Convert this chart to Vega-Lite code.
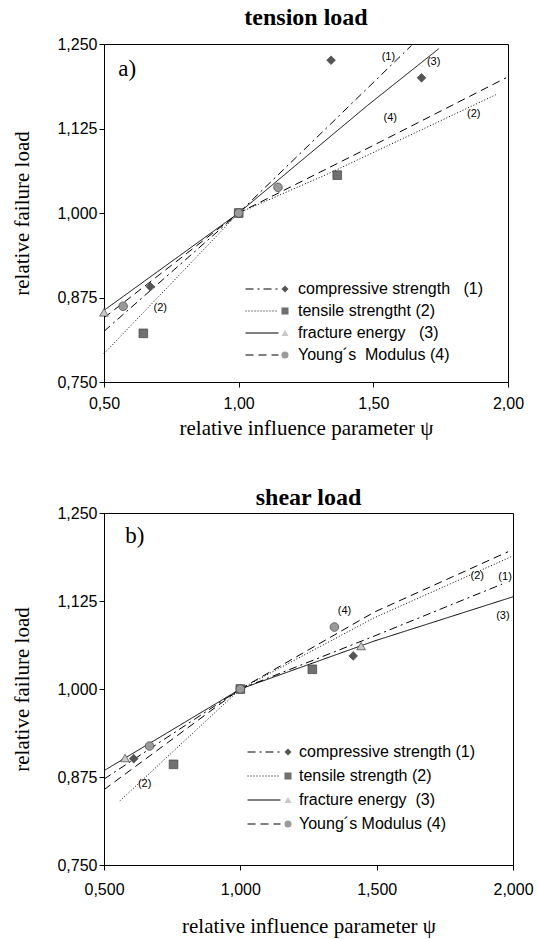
{
  "$schema": "https://vega.github.io/schema/vega-lite/v6.json",
  "padding": {"left": 11, "top": 5, "right": 5, "bottom": 5},
  "spacing": 46,
  "config": {
    "font": "Liberation Sans",
    "axis": {"labelFont": "Liberation Sans", "labelFontSize": 16, "labelColor": "black", "titleFont": "Liberation Serif", "titleFontSize": 21, "titleFontWeight": "normal", "titleColor": "black", "domainColor": "black", "tickColor": "black", "grid": false, "tickSize": 5, "labelFlush": false},
    "view": {"stroke": "black", "strokeWidth": 1},
    "legend": {"labelFont": "Liberation Sans", "labelFontSize": 16, "labelColor": "black", "padding": 0, "title": null, "labelLimit": 400}
  },
  "datasets": {
    "tension_points": [
      {"series": "compressive strength\u00a0\u00a0\u00a0(1)", "x": 0.672, "y": 0.891},
      {"series": "compressive strength\u00a0\u00a0\u00a0(1)", "x": 1.0, "y": 1.0},
      {"series": "compressive strength\u00a0\u00a0\u00a0(1)", "x": 1.343, "y": 1.226},
      {"series": "compressive strength\u00a0\u00a0\u00a0(1)", "x": 1.679, "y": 1.2},
      {"series": "tensile strengtht (2)", "x": 0.646, "y": 0.822},
      {"series": "tensile strengtht (2)", "x": 1.0, "y": 1.0},
      {"series": "tensile strengtht (2)", "x": 1.366, "y": 1.056},
      {"series": "fracture energy\u00a0\u00a0\u00a0(3)", "x": 0.5, "y": 0.853},
      {"series": "fracture energy\u00a0\u00a0\u00a0(3)", "x": 1.0, "y": 1.0},
      {"series": "Young´s\u00a0\u00a0Modulus (4)", "x": 0.571, "y": 0.862},
      {"series": "Young´s\u00a0\u00a0Modulus (4)", "x": 1.0, "y": 1.0},
      {"series": "Young´s\u00a0\u00a0Modulus (4)", "x": 1.146, "y": 1.038}
    ],
    "tension_lines": [
      {"curve": "c1", "x": 0.5, "y": 0.825},
      {"curve": "c1", "x": 1.0, "y": 1.0},
      {"curve": "c1", "x": 1.332, "y": 1.128},
      {"curve": "c1", "x": 1.642, "y": 1.248},
      {"curve": "c2", "x": 0.5, "y": 0.792},
      {"curve": "c2", "x": 1.0, "y": 1.0},
      {"curve": "c2", "x": 1.332, "y": 1.058},
      {"curve": "c2", "x": 1.955, "y": 1.175},
      {"curve": "c3", "x": 0.5, "y": 0.856},
      {"curve": "c3", "x": 1.0, "y": 1.0},
      {"curve": "c3", "x": 1.481, "y": 1.16},
      {"curve": "c3", "x": 1.743, "y": 1.243},
      {"curve": "c4", "x": 0.5, "y": 0.845},
      {"curve": "c4", "x": 1.0, "y": 1.0},
      {"curve": "c4", "x": 1.5, "y": 1.1},
      {"curve": "c4", "x": 1.993, "y": 1.2}
    ],
    "tension_labels": [
      {"label": "(1)", "x": 1.556, "y": 1.231},
      {"label": "(3)", "x": 1.724, "y": 1.224},
      {"label": "(4)", "x": 1.563, "y": 1.14},
      {"label": "(2)", "x": 1.873, "y": 1.147},
      {"label": "(2)", "x": 0.709, "y": 0.86}
    ],
    "shear_points": [
      {"series": "compressive strength (1)", "x": 0.609, "y": 0.901},
      {"series": "compressive strength (1)", "x": 1.0, "y": 1.0},
      {"series": "compressive strength (1)", "x": 1.414, "y": 1.047},
      {"series": "tensile strength (2)", "x": 0.755, "y": 0.893},
      {"series": "tensile strength (2)", "x": 1.0, "y": 1.0},
      {"series": "tensile strength (2)", "x": 1.264, "y": 1.028},
      {"series": "fracture energy\u00a0\u00a0(3)", "x": 0.577, "y": 0.902},
      {"series": "fracture energy\u00a0\u00a0(3)", "x": 1.0, "y": 1.0},
      {"series": "fracture energy\u00a0\u00a0(3)", "x": 1.443, "y": 1.061},
      {"series": "Young´s Modulus (4)", "x": 0.667, "y": 0.919},
      {"series": "Young´s Modulus (4)", "x": 1.0, "y": 1.0},
      {"series": "Young´s Modulus (4)", "x": 1.345, "y": 1.088}
    ],
    "shear_lines": [
      {"curve": "c1", "x": 0.5, "y": 0.872},
      {"curve": "c1", "x": 1.0, "y": 1.0},
      {"curve": "c1", "x": 1.49, "y": 1.075},
      {"curve": "c1", "x": 1.96, "y": 1.149},
      {"curve": "c2", "x": 0.558, "y": 0.841},
      {"curve": "c2", "x": 1.0, "y": 1.0},
      {"curve": "c2", "x": 1.49, "y": 1.101},
      {"curve": "c2", "x": 2.0, "y": 1.189},
      {"curve": "c3", "x": 0.5, "y": 0.884},
      {"curve": "c3", "x": 1.0, "y": 1.0},
      {"curve": "c3", "x": 1.49, "y": 1.068},
      {"curve": "c3", "x": 2.0, "y": 1.131},
      {"curve": "c4", "x": 0.5, "y": 0.857},
      {"curve": "c4", "x": 1.0, "y": 1.0},
      {"curve": "c4", "x": 1.49, "y": 1.109},
      {"curve": "c4", "x": 1.982, "y": 1.195}
    ],
    "shear_labels": [
      {"label": "(4)", "x": 1.382, "y": 1.111},
      {"label": "(2)", "x": 1.869, "y": 1.161},
      {"label": "(1)", "x": 1.971, "y": 1.159},
      {"label": "(3)", "x": 1.963, "y": 1.104},
      {"label": "(2)", "x": 0.649, "y": 0.865}
    ]
  },
  "vconcat": [
    {
      "title": {"text": "tension load", "font": "Liberation Serif", "fontSize": 24, "fontWeight": "bold", "frame": "group", "offset": 6, "color": "black"},
      "width": 404,
      "height": 338,
      "layer": [
        {
          "mark": {"type": "rule", "color": "black", "strokeWidth": 1.2},
          "encoding": {
            "x": {"datum": 1, "type": "quantitative", "scale": {"domain": [0.5, 2], "nice": false, "zero": false},
              "axis": {"values": [0.5, 1, 1.5, 2], "labelExpr": "replace(format(datum.value, '.2f'), '.', ',')", "labelPadding": 8, "titlePadding": 6, "title": "relative influence parameter ψ"}}
          }
        },
        {
          "mark": {"type": "rule", "color": "black", "strokeWidth": 1.2},
          "encoding": {
            "y": {"datum": 1, "type": "quantitative", "scale": {"domain": [0.75, 1.25], "nice": false, "zero": false},
              "axis": {"values": [0.75, 0.875, 1, 1.125, 1.25], "labelExpr": "replace(format(datum.value, '.3f'), '.', ',')", "labelPadding": 2, "titlePadding": 24, "title": "relative failure load"}}
          }
        },
        {
          "data": {"name": "tension_lines"},
          "mark": {"type": "line", "color": "black", "strokeWidth": 1},
          "encoding": {
            "x": {"field": "x", "type": "quantitative"},
            "y": {"field": "y", "type": "quantitative"},
            "strokeDash": {"field": "curve", "type": "nominal",
              "scale": {"domain": ["c1", "c2", "c3", "c4"], "range": [[8, 4, 2, 4], [1, 2], [1, 0], [8, 5]]},
              "legend": {"orient": "none", "legendX": 150, "legendY": 237, "symbolType": "M-3,0H3", "symbolSize": 121, "symbolStrokeColor": "black", "symbolFillColor": "transparent", "symbolStrokeWidth": 1.2, "labelOpacity": 0, "rowPadding": 6}}
          }
        },
        {
          "data": {"name": "tension_points"},
          "mark": {"type": "point", "filled": true, "size": 75, "opacity": 1, "stroke": "#444", "strokeWidth": 0.7},
          "encoding": {
            "x": {"field": "x", "type": "quantitative"},
            "y": {"field": "y", "type": "quantitative"},
            "shape": {"field": "series", "type": "nominal",
              "scale": {"domain": ["compressive strength\u00a0\u00a0\u00a0(1)", "tensile strengtht (2)", "fracture energy\u00a0\u00a0\u00a0(3)", "Young´s\u00a0\u00a0Modulus (4)"], "range": ["diamond", "square", "triangle-up", "circle"]},
              "legend": {"orient": "none", "legendX": 173, "legendY": 237, "symbolSize": 50, "symbolStrokeColor": "#444", "symbolStrokeWidth": 0.7, "labelOffset": 5, "rowPadding": 6}},
            "fill": {"field": "series", "type": "nominal",
              "scale": {"domain": ["compressive strength\u00a0\u00a0\u00a0(1)", "tensile strengtht (2)", "fracture energy\u00a0\u00a0\u00a0(3)", "Young´s\u00a0\u00a0Modulus (4)"], "range": ["#555555", "#707070", "#c8c8c8", "#9a9a9a"]},
              "legend": {"orient": "none", "legendX": 173, "legendY": 237, "symbolSize": 50, "symbolStrokeColor": "#444", "symbolStrokeWidth": 0.7, "labelOffset": 5, "rowPadding": 6}}
          }
        },
        {
          "data": {"name": "tension_labels"},
          "mark": {"type": "text", "font": "Liberation Sans", "fontSize": 11, "color": "black"},
          "encoding": {
            "x": {"field": "x", "type": "quantitative"},
            "y": {"field": "y", "type": "quantitative"},
            "text": {"field": "label"}
          }
        },
        {
          "data": {"values": [{"label": "a)", "x": 0.586, "y": 1.213}]},
          "mark": {"type": "text", "font": "Liberation Serif", "fontSize": 23, "color": "black"},
          "encoding": {
            "x": {"field": "x", "type": "quantitative"},
            "y": {"field": "y", "type": "quantitative"},
            "text": {"field": "label"}
          }
        }
      ]
    },
    {
      "title": {"text": "shear load", "font": "Liberation Serif", "fontSize": 24, "fontWeight": "bold", "frame": "group", "offset": -5, "color": "black"},
      "width": 409,
      "height": 352,
      "layer": [
        {
          "mark": {"type": "rule", "color": "black", "strokeWidth": 1.2},
          "encoding": {
            "x": {"datum": 1, "type": "quantitative", "scale": {"domain": [0.5, 2], "nice": false, "zero": false},
              "axis": {"values": [0.5, 1, 1.5, 2], "labelExpr": "replace(format(datum.value, '.3f'), '.', ',')", "labelPadding": 11, "titlePadding": 18, "title": "relative influence parameter ψ"}}
          }
        },
        {
          "mark": {"type": "rule", "color": "black", "strokeWidth": 1.2},
          "encoding": {
            "y": {"datum": 1, "type": "quantitative", "scale": {"domain": [0.75, 1.25], "nice": false, "zero": false},
              "axis": {"values": [0.75, 0.875, 1, 1.125, 1.25], "labelExpr": "replace(format(datum.value, '.3f'), '.', ',')", "labelPadding": 2, "titlePadding": 24, "title": "relative failure load"}}
          }
        },
        {
          "data": {"name": "shear_lines"},
          "mark": {"type": "line", "color": "black", "strokeWidth": 1},
          "encoding": {
            "x": {"field": "x", "type": "quantitative"},
            "y": {"field": "y", "type": "quantitative"},
            "strokeDash": {"field": "curve", "type": "nominal",
              "scale": {"domain": ["c1", "c2", "c3", "c4"], "range": [[8, 4, 2, 4], [1, 2], [1, 0], [8, 5]]},
              "legend": {"orient": "none", "legendX": 152, "legendY": 231, "symbolType": "M-3,0H3", "symbolSize": 121, "symbolStrokeColor": "black", "symbolFillColor": "transparent", "symbolStrokeWidth": 1.2, "labelOpacity": 0, "rowPadding": 8}}
          }
        },
        {
          "data": {"name": "shear_points"},
          "mark": {"type": "point", "filled": true, "size": 75, "opacity": 1, "stroke": "#444", "strokeWidth": 0.7},
          "encoding": {
            "x": {"field": "x", "type": "quantitative"},
            "y": {"field": "y", "type": "quantitative"},
            "shape": {"field": "series", "type": "nominal",
              "scale": {"domain": ["compressive strength (1)", "tensile strength (2)", "fracture energy\u00a0\u00a0(3)", "Young´s Modulus (4)"], "range": ["diamond", "square", "triangle-up", "circle"]},
              "legend": {"orient": "none", "legendX": 176, "legendY": 231, "symbolSize": 50, "symbolStrokeColor": "#444", "symbolStrokeWidth": 0.7, "labelOffset": 3, "rowPadding": 8}},
            "fill": {"field": "series", "type": "nominal",
              "scale": {"domain": ["compressive strength (1)", "tensile strength (2)", "fracture energy\u00a0\u00a0(3)", "Young´s Modulus (4)"], "range": ["#555555", "#707070", "#c8c8c8", "#9a9a9a"]},
              "legend": {"orient": "none", "legendX": 176, "legendY": 231, "symbolSize": 50, "symbolStrokeColor": "#444", "symbolStrokeWidth": 0.7, "labelOffset": 3, "rowPadding": 8}}
          }
        },
        {
          "data": {"name": "shear_labels"},
          "mark": {"type": "text", "font": "Liberation Sans", "fontSize": 11, "color": "black"},
          "encoding": {
            "x": {"field": "x", "type": "quantitative"},
            "y": {"field": "y", "type": "quantitative"},
            "text": {"field": "label"}
          }
        },
        {
          "data": {"values": [{"label": "b)", "x": 0.613, "y": 1.217}]},
          "mark": {"type": "text", "font": "Liberation Serif", "fontSize": 23, "color": "black"},
          "encoding": {
            "x": {"field": "x", "type": "quantitative"},
            "y": {"field": "y", "type": "quantitative"},
            "text": {"field": "label"}
          }
        }
      ]
    }
  ],
  "resolve": {
    "scale": {"x": "independent", "y": "independent", "strokeDash": "independent", "shape": "independent", "fill": "independent"},
    "legend": {"strokeDash": "independent", "shape": "independent", "fill": "independent"}
  }
}
